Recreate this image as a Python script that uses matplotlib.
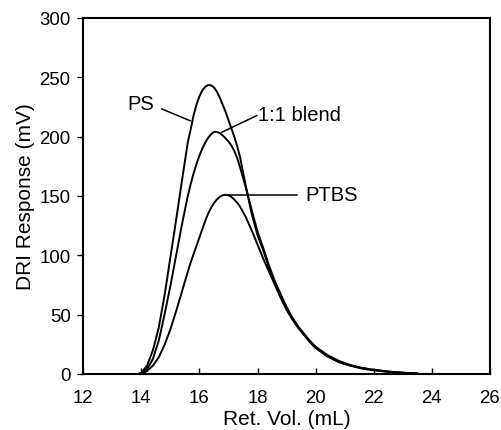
import numpy as np
import matplotlib
matplotlib.use('Agg')
import matplotlib.pyplot as plt

plt.rcParams['font.family'] = ['Liberation Sans', 'DejaVu Sans']

# Retention volume grid (mL) and detector response (mV)
ret_vol = [13.9, 14.0, 14.2, 14.4, 14.6, 14.8, 15.0, 15.2, 15.4, 15.6, 15.7,
           15.8, 15.9, 16.0, 16.1, 16.2, 16.3, 16.4, 16.5, 16.6, 16.7, 16.8,
           16.9, 17.0, 17.1, 17.2, 17.3, 17.4, 17.6, 17.8, 18.0, 18.2, 18.4,
           18.6, 18.8, 19.0, 19.2, 19.4, 19.6, 19.8, 20.0, 20.4, 20.8, 21.2,
           21.6, 22.0, 22.5, 23.0, 23.5]

ps = [0, 1, 7, 20, 39, 66, 98, 130, 163, 195, 206,
      218, 227, 234, 239, 242, 243.5, 243.2, 241.5, 238, 233, 227,
      221, 214, 207, 200, 192, 182.6, 158, 135, 117, 104, 89,
      76, 66, 55, 46.5, 39, 33, 27, 22, 15, 10, 7,
      5, 3.5, 2, 1, 0.3]

blend = [0, 0.5, 4, 12.6, 28, 50, 74, 100, 126, 150, 160,
         169, 177, 184, 190, 195, 199, 202, 204, 204, 203, 201,
         198.5, 196, 192.5, 188, 182, 174, 157, 138, 120, 106, 91,
         78, 67, 56.5, 47.5, 40, 34, 28, 23, 16, 11, 7.5,
         5, 3.5, 2, 1, 0.3]

ptbs = [0, 0, 2.5, 7, 14, 24.5, 37.5, 53, 69.5, 86, 94,
        101, 108, 115, 122, 129, 135, 140, 144, 147, 149.3, 150.6,
        151, 150.6, 149.2, 147, 144.3, 141, 132, 121, 109, 97, 86,
        75, 64, 54, 46, 39, 33, 27, 22, 15, 10, 7,
        4.5, 3, 1.8, 1, 0.3]

fig = plt.figure(figsize=(5.01, 4.31), dpi=100)
ax = fig.add_axes([0.166, 0.13, 0.812, 0.826])

for y in (ps, blend, ptbs):
    ax.plot(ret_vol, y, color='black', linewidth=1.4)

# labels with leader lines
ax.plot([14.71, 15.68], [223.3, 213.4], color='black', linewidth=1.1)
ax.text(13.98, 228, 'PS', fontsize=14.5, ha='center', va='center')
ax.plot([16.77, 17.97], [203.7, 217.7], color='black', linewidth=1.1)
ax.text(18.0, 219, '1:1 blend', fontsize=14.5, ha='left', va='center')
ax.plot([16.9, 19.35], [150.8, 150.8], color='black', linewidth=1.1)
ax.text(19.65, 151, 'PTBS', fontsize=14.5, ha='left', va='center')

ax.set_xlim(12, 26)
ax.set_ylim(0, 300)
ax.set_xticks(np.arange(12, 27, 2))
ax.set_yticks(np.arange(0, 301, 50))
ax.tick_params(axis='x', direction='in', length=4, width=1, labelsize=13.4, pad=11)
ax.tick_params(axis='y', direction='out', length=4, width=1, labelsize=13.4, pad=5)
for s in ax.spines.values():
    s.set_linewidth(1.5)

ax.set_xlabel('Ret. Vol. (mL)', fontsize=15, labelpad=2)
ax.set_ylabel('DRI Response (mV)', fontsize=15, labelpad=3)

fig.savefig('out.png', dpi=100)
